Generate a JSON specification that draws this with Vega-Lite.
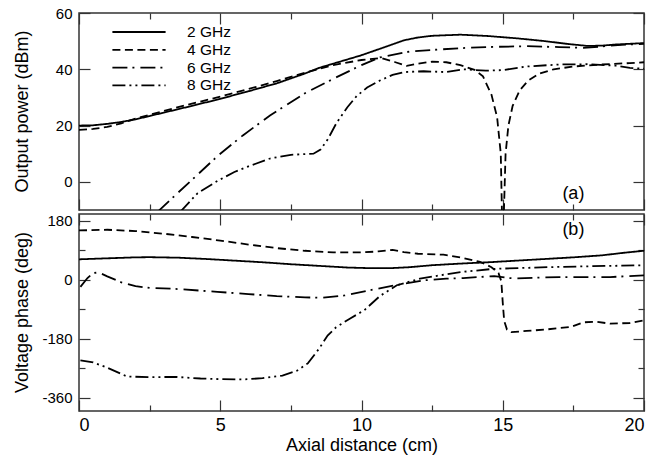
{
  "$schema": "https://vega.github.io/schema/vega-lite/v6.json",
  "padding": {"left": 12, "top": 5, "right": 5, "bottom": 3},
  "spacing": 0,
  "config": {
    "font": "Liberation Sans",
    "view": {"stroke": "#333", "strokeWidth": 1.5},
    "axis": {"domain": false, "grid": false, "tickColor": "#333", "tickWidth": 1.2, "labelColor": "black", "titleColor": "black", "titleFontWeight": "normal", "labelFont": "Liberation Sans", "titleFont": "Liberation Sans"}
  },
  "datasets": {
    "power": [
      {"x": 0, "y": 20, "s": "2 GHz"}, {"x": 0.5, "y": 20.1, "s": "2 GHz"}, {"x": 1, "y": 20.6, "s": "2 GHz"}, {"x": 1.5, "y": 21.3, "s": "2 GHz"}, {"x": 2, "y": 22.2, "s": "2 GHz"}, {"x": 2.5, "y": 23.4, "s": "2 GHz"}, {"x": 3, "y": 24.6, "s": "2 GHz"}, {"x": 4, "y": 27, "s": "2 GHz"}, {"x": 5, "y": 29.5, "s": "2 GHz"}, {"x": 6, "y": 32.2, "s": "2 GHz"}, {"x": 7, "y": 35, "s": "2 GHz"}, {"x": 8, "y": 38.5, "s": "2 GHz"}, {"x": 8.5, "y": 40.5, "s": "2 GHz"}, {"x": 9, "y": 42, "s": "2 GHz"}, {"x": 10, "y": 45, "s": "2 GHz"}, {"x": 11, "y": 48.5, "s": "2 GHz"}, {"x": 11.5, "y": 50.3, "s": "2 GHz"}, {"x": 12, "y": 51.3, "s": "2 GHz"}, {"x": 12.5, "y": 51.9, "s": "2 GHz"}, {"x": 13.5, "y": 52.3, "s": "2 GHz"}, {"x": 14.5, "y": 51.8, "s": "2 GHz"}, {"x": 15.5, "y": 51, "s": "2 GHz"}, {"x": 16.5, "y": 50, "s": "2 GHz"}, {"x": 17.3, "y": 49, "s": "2 GHz"}, {"x": 18, "y": 48.3, "s": "2 GHz"}, {"x": 18.5, "y": 48.4, "s": "2 GHz"}, {"x": 19, "y": 48.8, "s": "2 GHz"}, {"x": 20, "y": 49.3, "s": "2 GHz"},
      {"x": 0, "y": 18.5, "s": "4 GHz"}, {"x": 0.5, "y": 18.8, "s": "4 GHz"}, {"x": 1, "y": 19.5, "s": "4 GHz"}, {"x": 1.5, "y": 20.8, "s": "4 GHz"}, {"x": 2, "y": 22.5, "s": "4 GHz"}, {"x": 3, "y": 25.2, "s": "4 GHz"}, {"x": 4, "y": 27.8, "s": "4 GHz"}, {"x": 5, "y": 30.3, "s": "4 GHz"}, {"x": 6, "y": 33, "s": "4 GHz"}, {"x": 7, "y": 35.8, "s": "4 GHz"}, {"x": 8, "y": 38.8, "s": "4 GHz"}, {"x": 9, "y": 41.5, "s": "4 GHz"}, {"x": 10, "y": 43.3, "s": "4 GHz"}, {"x": 10.7, "y": 44, "s": "4 GHz"}, {"x": 11.2, "y": 42.5, "s": "4 GHz"}, {"x": 11.6, "y": 41.2, "s": "4 GHz"}, {"x": 12, "y": 42, "s": "4 GHz"}, {"x": 12.5, "y": 42.7, "s": "4 GHz"}, {"x": 13, "y": 42.5, "s": "4 GHz"}, {"x": 13.5, "y": 41.5, "s": "4 GHz"}, {"x": 14, "y": 39.8, "s": "4 GHz"}, {"x": 14.3, "y": 37.5, "s": "4 GHz"}, {"x": 14.6, "y": 31, "s": "4 GHz"}, {"x": 14.8, "y": 23, "s": "4 GHz"}, {"x": 14.93, "y": 10, "s": "4 GHz"}, {"x": 15.0, "y": -25, "s": "4 GHz"}, {"x": 15.1, "y": 10, "s": "4 GHz"}, {"x": 15.2, "y": 20, "s": "4 GHz"}, {"x": 15.35, "y": 27, "s": "4 GHz"}, {"x": 15.6, "y": 32.5, "s": "4 GHz"}, {"x": 15.9, "y": 36, "s": "4 GHz"}, {"x": 16.3, "y": 38.5, "s": "4 GHz"}, {"x": 16.8, "y": 40, "s": "4 GHz"}, {"x": 17.5, "y": 41, "s": "4 GHz"}, {"x": 18.5, "y": 41.7, "s": "4 GHz"}, {"x": 19.5, "y": 42.2, "s": "4 GHz"}, {"x": 20, "y": 42.5, "s": "4 GHz"},
      {"x": 2.8, "y": -10.5, "s": "6 GHz"}, {"x": 3.5, "y": -3.9, "s": "6 GHz"}, {"x": 4.2, "y": 2.6, "s": "6 GHz"}, {"x": 4.93, "y": 9.4, "s": "6 GHz"}, {"x": 5.8, "y": 16.5, "s": "6 GHz"}, {"x": 6.76, "y": 23.6, "s": "6 GHz"}, {"x": 8, "y": 31.5, "s": "6 GHz"}, {"x": 9.12, "y": 37.2, "s": "6 GHz"}, {"x": 10, "y": 41.5, "s": "6 GHz"}, {"x": 10.65, "y": 44.2, "s": "6 GHz"}, {"x": 11.7, "y": 46.3, "s": "6 GHz"}, {"x": 12.7, "y": 47, "s": "6 GHz"}, {"x": 13.7, "y": 47.6, "s": "6 GHz"}, {"x": 14.8, "y": 48, "s": "6 GHz"}, {"x": 15.85, "y": 48.2, "s": "6 GHz"}, {"x": 17, "y": 47.9, "s": "6 GHz"}, {"x": 17.85, "y": 47.6, "s": "6 GHz"}, {"x": 18.5, "y": 48.1, "s": "6 GHz"}, {"x": 19.2, "y": 48.7, "s": "6 GHz"}, {"x": 20, "y": 49, "s": "6 GHz"},
      {"x": 3.6, "y": -10.5, "s": "8 GHz"}, {"x": 4.2, "y": -4, "s": "8 GHz"}, {"x": 4.93, "y": 0.5, "s": "8 GHz"}, {"x": 5.5, "y": 3.5, "s": "8 GHz"}, {"x": 6, "y": 5.5, "s": "8 GHz"}, {"x": 6.76, "y": 8.3, "s": "8 GHz"}, {"x": 7.5, "y": 9.6, "s": "8 GHz"}, {"x": 8.3, "y": 10, "s": "8 GHz"}, {"x": 8.55, "y": 11.5, "s": "8 GHz"}, {"x": 8.8, "y": 15, "s": "8 GHz"}, {"x": 9.12, "y": 21, "s": "8 GHz"}, {"x": 9.5, "y": 26.5, "s": "8 GHz"}, {"x": 9.83, "y": 30.5, "s": "8 GHz"}, {"x": 10.2, "y": 33.5, "s": "8 GHz"}, {"x": 10.65, "y": 36, "s": "8 GHz"}, {"x": 11.1, "y": 38, "s": "8 GHz"}, {"x": 11.5, "y": 39, "s": "8 GHz"}, {"x": 12.2, "y": 39.3, "s": "8 GHz"}, {"x": 13, "y": 39, "s": "8 GHz"}, {"x": 13.6, "y": 40, "s": "8 GHz"}, {"x": 14.4, "y": 39.5, "s": "8 GHz"}, {"x": 15, "y": 39.7, "s": "8 GHz"}, {"x": 15.85, "y": 41, "s": "8 GHz"}, {"x": 17, "y": 41.7, "s": "8 GHz"}, {"x": 18, "y": 41.8, "s": "8 GHz"}, {"x": 19, "y": 41.3, "s": "8 GHz"}, {"x": 19.5, "y": 40.5, "s": "8 GHz"}, {"x": 20, "y": 40.2, "s": "8 GHz"}
    ],
    "phase": [
      {"x": 0, "y": 62, "s": "2 GHz"}, {"x": 1, "y": 65, "s": "2 GHz"}, {"x": 2, "y": 68, "s": "2 GHz"}, {"x": 2.5, "y": 68.5, "s": "2 GHz"}, {"x": 3.5, "y": 67, "s": "2 GHz"}, {"x": 4.5, "y": 63, "s": "2 GHz"}, {"x": 5.5, "y": 58, "s": "2 GHz"}, {"x": 6.5, "y": 53, "s": "2 GHz"}, {"x": 7.5, "y": 47, "s": "2 GHz"}, {"x": 8.5, "y": 42, "s": "2 GHz"}, {"x": 9.5, "y": 37, "s": "2 GHz"}, {"x": 10.3, "y": 35, "s": "2 GHz"}, {"x": 11, "y": 35, "s": "2 GHz"}, {"x": 11.7, "y": 38, "s": "2 GHz"}, {"x": 12.5, "y": 44, "s": "2 GHz"}, {"x": 13.5, "y": 49, "s": "2 GHz"}, {"x": 14.5, "y": 53, "s": "2 GHz"}, {"x": 15.5, "y": 58, "s": "2 GHz"}, {"x": 16.5, "y": 63, "s": "2 GHz"}, {"x": 17.5, "y": 68, "s": "2 GHz"}, {"x": 18.5, "y": 74, "s": "2 GHz"}, {"x": 19.3, "y": 82, "s": "2 GHz"}, {"x": 20, "y": 88, "s": "2 GHz"},
      {"x": 0, "y": 150, "s": "4 GHz"}, {"x": 1, "y": 152, "s": "4 GHz"}, {"x": 2, "y": 148, "s": "4 GHz"}, {"x": 3, "y": 140, "s": "4 GHz"}, {"x": 4, "y": 130, "s": "4 GHz"}, {"x": 5, "y": 119, "s": "4 GHz"}, {"x": 6, "y": 107, "s": "4 GHz"}, {"x": 7, "y": 96, "s": "4 GHz"}, {"x": 8, "y": 88, "s": "4 GHz"}, {"x": 9, "y": 83, "s": "4 GHz"}, {"x": 10, "y": 83, "s": "4 GHz"}, {"x": 10.6, "y": 86, "s": "4 GHz"}, {"x": 11.1, "y": 91, "s": "4 GHz"}, {"x": 11.5, "y": 84, "s": "4 GHz"}, {"x": 12, "y": 79, "s": "4 GHz"}, {"x": 12.9, "y": 76, "s": "4 GHz"}, {"x": 13.6, "y": 66, "s": "4 GHz"}, {"x": 14.2, "y": 54, "s": "4 GHz"}, {"x": 14.6, "y": 38, "s": "4 GHz"}, {"x": 14.85, "y": 20, "s": "4 GHz"}, {"x": 14.95, "y": -5, "s": "4 GHz"}, {"x": 15.0, "y": -70, "s": "4 GHz"}, {"x": 15.05, "y": -125, "s": "4 GHz"}, {"x": 15.15, "y": -152, "s": "4 GHz"}, {"x": 15.3, "y": -160, "s": "4 GHz"}, {"x": 15.85, "y": -156, "s": "4 GHz"}, {"x": 16.5, "y": -152, "s": "4 GHz"}, {"x": 17.4, "y": -144, "s": "4 GHz"}, {"x": 17.85, "y": -130, "s": "4 GHz"}, {"x": 18.3, "y": -128, "s": "4 GHz"}, {"x": 18.8, "y": -134, "s": "4 GHz"}, {"x": 19.5, "y": -132, "s": "4 GHz"}, {"x": 20, "y": -124, "s": "4 GHz"},
      {"x": 0.05, "y": -22, "s": "6 GHz"}, {"x": 0.3, "y": 5, "s": "6 GHz"}, {"x": 0.5, "y": 20, "s": "6 GHz"}, {"x": 0.7, "y": 22, "s": "6 GHz"}, {"x": 1.0, "y": 10, "s": "6 GHz"}, {"x": 1.5, "y": -8, "s": "6 GHz"}, {"x": 2, "y": -20, "s": "6 GHz"}, {"x": 2.5, "y": -25, "s": "6 GHz"}, {"x": 3.4, "y": -28, "s": "6 GHz"}, {"x": 4.9, "y": -37, "s": "6 GHz"}, {"x": 6, "y": -44, "s": "6 GHz"}, {"x": 7, "y": -50, "s": "6 GHz"}, {"x": 8, "y": -54, "s": "6 GHz"}, {"x": 8.6, "y": -55, "s": "6 GHz"}, {"x": 9.4, "y": -48, "s": "6 GHz"}, {"x": 10.3, "y": -32, "s": "6 GHz"}, {"x": 11.2, "y": -17, "s": "6 GHz"}, {"x": 12.2, "y": -2, "s": "6 GHz"}, {"x": 13, "y": 3, "s": "6 GHz"}, {"x": 13.6, "y": 5, "s": "6 GHz"}, {"x": 14.7, "y": 11, "s": "6 GHz"}, {"x": 15.2, "y": 5, "s": "6 GHz"}, {"x": 15.5, "y": 4, "s": "6 GHz"}, {"x": 17, "y": 8, "s": "6 GHz"}, {"x": 18.8, "y": 8, "s": "6 GHz"}, {"x": 20, "y": 13, "s": "6 GHz"},
      {"x": 0.05, "y": -246, "s": "8 GHz"}, {"x": 0.5, "y": -252, "s": "8 GHz"}, {"x": 1, "y": -268, "s": "8 GHz"}, {"x": 1.7, "y": -295, "s": "8 GHz"}, {"x": 2.5, "y": -297, "s": "8 GHz"}, {"x": 3.4, "y": -296, "s": "8 GHz"}, {"x": 4.3, "y": -301, "s": "8 GHz"}, {"x": 5.0, "y": -303, "s": "8 GHz"}, {"x": 5.8, "y": -304, "s": "8 GHz"}, {"x": 6.5, "y": -300, "s": "8 GHz"}, {"x": 7.2, "y": -292, "s": "8 GHz"}, {"x": 7.7, "y": -278, "s": "8 GHz"}, {"x": 8.1, "y": -255, "s": "8 GHz"}, {"x": 8.5, "y": -210, "s": "8 GHz"}, {"x": 8.8, "y": -170, "s": "8 GHz"}, {"x": 9.1, "y": -145, "s": "8 GHz"}, {"x": 9.6, "y": -118, "s": "8 GHz"}, {"x": 10.1, "y": -93, "s": "8 GHz"}, {"x": 10.65, "y": -50, "s": "8 GHz"}, {"x": 11.25, "y": -17, "s": "8 GHz"}, {"x": 12.07, "y": 3, "s": "8 GHz"}, {"x": 12.9, "y": 15, "s": "8 GHz"}, {"x": 13.5, "y": 23, "s": "8 GHz"}, {"x": 14.67, "y": 33, "s": "8 GHz"}, {"x": 17, "y": 39, "s": "8 GHz"}, {"x": 20, "y": 44, "s": "8 GHz"}
    ]
  },
  "resolve": {"legend": {"strokeDash": "independent"}},
  "vconcat": [
    {
      "width": 565, "height": 197,
      "resolve": {"axis": {"x": "independent", "y": "independent"}},
      "layer": [
        {
          "data": {"name": "power"},
          "mark": {"type": "line", "clip": true, "color": "black", "strokeWidth": 1.8},
          "encoding": {
            "x": {"field": "x", "type": "quantitative", "scale": {"domain": [0, 20], "nice": false},
              "axis": {"orient": "bottom", "values": [0, 2.5, 5, 7.5, 10, 12.5, 15, 17.5, 20], "labels": false, "title": null,
                "tickSize": {"condition": {"test": "datum.value % 5 === 0", "value": -11}, "value": -6}}},
            "y": {"field": "y", "type": "quantitative", "scale": {"domain": [-10, 60], "nice": false, "zero": false},
              "axis": {"orient": "left", "values": [0, 20, 40, 60], "tickSize": -11, "labelFontSize": 15, "labelPadding": 18,
                "title": "Output power (dBm)", "titleFontSize": 18, "titleX": -57, "titleY": 98, "titleAngle": -90, "titleAlign": "center", "titleBaseline": "middle"}},
            "strokeDash": {"field": "s", "type": "nominal",
              "scale": {"domain": ["2 GHz", "4 GHz", "6 GHz", "8 GHz"], "range": [[1, 0], [8, 4.5], [15, 5, 2, 6], [13, 4, 2, 4, 2, 4]]},
              "legend": {"title": null, "orient": "none", "legendX": 52, "legendY": 11, "padding": 0, "symbolType": "M-3.8,0H3.8", "symbolSize": 196, "symbolStrokeWidth": 1.8, "symbolStrokeColor": "black", "labelFontSize": 15.5, "labelOffset": 40, "rowPadding": 0.8, "labelColor": "black"}}
          }
        },
        {
          "data": {"name": "power"},
          "mark": {"type": "point", "opacity": 0, "clip": true},
          "encoding": {
            "x": {"field": "x", "type": "quantitative",
              "axis": {"orient": "top", "values": [0, 2.5, 5, 7.5, 10, 12.5, 15, 17.5, 20], "labels": false, "title": null,
                "tickSize": {"condition": {"test": "datum.value % 5 === 0", "value": -11}, "value": -6}}},
            "y": {"field": "y", "type": "quantitative",
              "axis": {"orient": "right", "values": [0, 20, 40, 60], "labels": false, "title": null, "tickSize": -11}}
          }
        },
        {
          "data": {"values": [{"x": 17.5, "y": -4.3, "t": "(a)"}]},
          "mark": {"type": "text", "fontSize": 18, "font": "Liberation Sans", "color": "black"},
          "encoding": {
            "x": {"field": "x", "type": "quantitative", "axis": null},
            "y": {"field": "y", "type": "quantitative", "axis": null},
            "text": {"field": "t"}
          }
        }
      ]
    },
    {
      "width": 565, "height": 197,
      "resolve": {"axis": {"x": "independent", "y": "independent"}},
      "layer": [
        {
          "data": {"name": "phase"},
          "mark": {"type": "line", "clip": true, "color": "black", "strokeWidth": 1.8},
          "encoding": {
            "x": {"field": "x", "type": "quantitative", "scale": {"domain": [0, 20], "nice": false},
              "axis": {"orient": "bottom", "values": [0, 2.5, 5, 7.5, 10, 12.5, 15, 17.5, 20],
                "labelExpr": "datum.value % 5 === 0 ? '' + datum.value : ''", "labelFontSize": 18, "labelPadding": 16,
                "title": "Axial distance (cm)", "titleFontSize": 18, "titlePadding": 2,
                "tickSize": {"condition": {"test": "datum.value % 5 === 0", "value": -11}, "value": -6}}},
            "y": {"field": "y", "type": "quantitative", "scale": {"domain": [-400, 200], "nice": false, "zero": false},
              "axis": {"orient": "left", "values": [-360, -270, -180, -90, 0, 90, 180],
                "labelExpr": "datum.value % 180 === 0 ? '' + datum.value : ''", "labelFontSize": 15, "labelPadding": 18,
                "tickSize": {"condition": {"test": "datum.value % 180 === 0", "value": -11}, "value": -6},
                "title": "Voltage phase (deg)", "titleFontSize": 18, "titleX": -57, "titleY": 98, "titleAngle": -90, "titleAlign": "center", "titleBaseline": "middle"}},
            "strokeDash": {"field": "s", "type": "nominal",
              "scale": {"domain": ["2 GHz", "4 GHz", "6 GHz", "8 GHz"], "range": [[1, 0], [8, 4.5], [15, 5, 2, 6], [13, 4, 2, 4, 2, 4]]},
              "legend": null}
          }
        },
        {
          "data": {"name": "phase"},
          "mark": {"type": "point", "opacity": 0, "clip": true},
          "encoding": {
            "x": {"field": "x", "type": "quantitative",
              "axis": {"orient": "top", "values": [0, 2.5, 5, 7.5, 10, 12.5, 15, 17.5, 20], "labels": false, "title": null,
                "tickSize": {"condition": {"test": "datum.value % 5 === 0", "value": -11}, "value": -6}}},
            "y": {"field": "y", "type": "quantitative",
              "axis": {"orient": "right", "values": [-360, -270, -180, -90, 0, 90, 180], "labels": false, "title": null,
                "tickSize": {"condition": {"test": "datum.value % 180 === 0", "value": -11}, "value": -6}}}
          }
        },
        {
          "data": {"values": [{"x": 17.5, "y": 150, "t": "(b)"}]},
          "mark": {"type": "text", "fontSize": 18, "font": "Liberation Sans", "color": "black"},
          "encoding": {
            "x": {"field": "x", "type": "quantitative", "axis": null},
            "y": {"field": "y", "type": "quantitative", "axis": null},
            "text": {"field": "t"}
          }
        }
      ]
    }
  ]
}
